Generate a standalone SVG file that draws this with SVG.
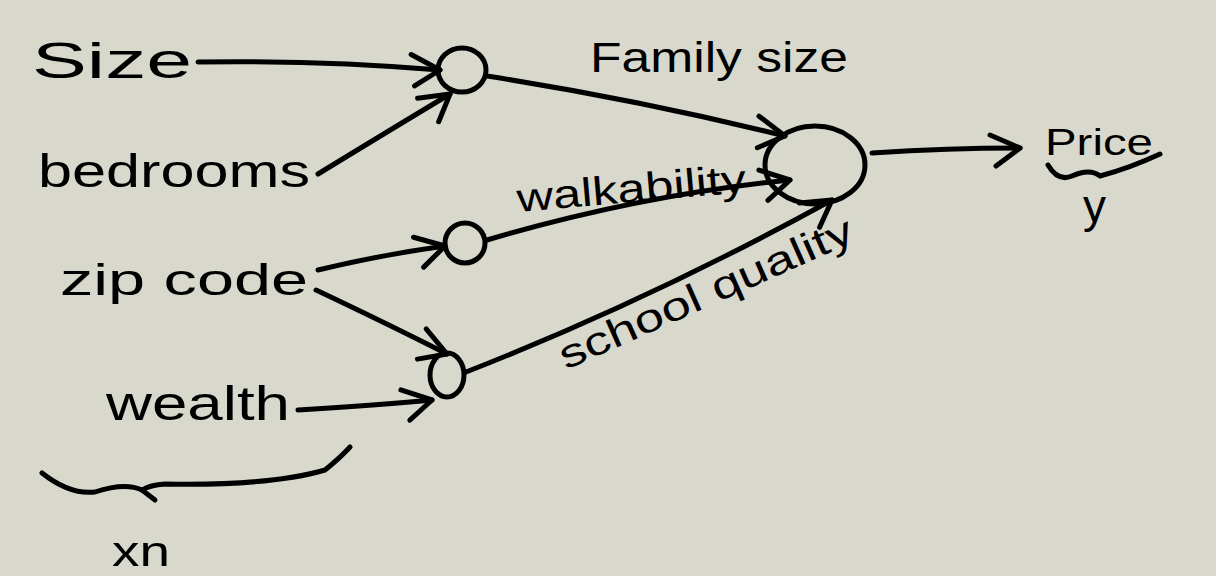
<svg xmlns="http://www.w3.org/2000/svg" width="1216" height="576" viewBox="0 0 1216 576">
<defs>
<style>
.bg{fill:#d9d8cc}
.ln{fill:none;stroke:#000;stroke-width:5;stroke-linecap:round;stroke-linejoin:round}
.nd{fill:none;stroke:#000;stroke-width:5}
.t{font-family:"Liberation Sans",Arial,sans-serif;fill:#000}
</style>
<marker id="ah" markerWidth="60" markerHeight="60" refX="0" refY="0" markerUnits="userSpaceOnUse" orient="auto" overflow="visible">
<path d="M-30,-13 L0,0 L-24,18" fill="none" stroke="#000" stroke-width="5" stroke-linecap="round" stroke-linejoin="round"/>
</marker>
</defs>
<rect class="bg" x="0" y="0" width="1216" height="576"/>
<g id="inputs">
<g id="n-size"><text class="t" x="32" y="78" font-size="50" textLength="160" lengthAdjust="spacingAndGlyphs">Size</text></g>
<g id="n-bedrooms"><text class="t" x="38" y="187" font-size="46" textLength="272" lengthAdjust="spacingAndGlyphs">bedrooms</text></g>
<g id="n-zip"><text class="t" x="60" y="295" font-size="44" textLength="248" lengthAdjust="spacingAndGlyphs">zip code</text></g>
<g id="n-wealth"><text class="t" x="106" y="420" font-size="48" textLength="184" lengthAdjust="spacingAndGlyphs">wealth</text></g>
</g>
<g id="n-h1"><ellipse class="nd" cx="462" cy="70" rx="24" ry="22"/></g>
<g id="n-h2"><ellipse class="nd" cx="465" cy="243" rx="20" ry="20"/></g>
<g id="n-h3"><ellipse class="nd" cx="447" cy="375" rx="17" ry="22"/></g>
<g id="n-out"><ellipse class="nd" cx="815" cy="165" rx="50" ry="39"/></g>
<g id="n-price"><text class="t" x="1045" y="155" font-size="36" textLength="108" lengthAdjust="spacingAndGlyphs">Price</text>
<path class="ln" d="M1048,165 Q1058,182 1072,176 Q1090,168 1100,176 Q1130,168 1160,154"/>
<text class="t" x="1083" y="222" font-size="46">y</text></g>
<g id="connectors">
<path class="ln" d="M198,62 Q320,60 440,70" marker-end="url(#ah)"/>
<path class="ln" d="M318,174 Q390,130 450,94" marker-end="url(#ah)"/>
<path class="ln" d="M487,76 Q640,100 785,136" marker-end="url(#ah)"/>
<path class="ln" d="M318,270 Q380,255 445,246" marker-end="url(#ah)"/>
<path class="ln" d="M316,290 Q390,325 447,354" marker-end="url(#ah)"/>
<path class="ln" d="M298,410 Q380,405 432,400" marker-end="url(#ah)"/>
<path class="ln" d="M487,240 Q640,195 790,180" marker-end="url(#ah)"/>
<path class="ln" d="M466,372 Q650,300 832,200" marker-end="url(#ah)"/>
<path class="ln" d="M872,153 Q950,148 1020,148" marker-end="url(#ah)"/>
</g>
<g id="labels">
<text class="t" x="590" y="72" font-size="42" textLength="258" lengthAdjust="spacingAndGlyphs">Family size</text>
<text class="t" x="518" y="212" font-size="40" textLength="230" lengthAdjust="spacingAndGlyphs" transform="rotate(-5 518 212)">walkability</text>
<text class="t" x="566" y="370" font-size="40" textLength="318" lengthAdjust="spacingAndGlyphs" transform="rotate(-24 566 370)">school quality</text>
</g>
<g id="brace">
<path class="ln" d="M42,473 Q70,495 95,492 Q125,482 142,490 Q150,485 165,484 Q270,486 325,470 Q340,458 350,447"/>
<path class="ln" d="M142,490 L155,500"/>
<text class="t" x="112" y="566" font-size="42" textLength="58" lengthAdjust="spacingAndGlyphs">xn</text>
</g>
</svg>
